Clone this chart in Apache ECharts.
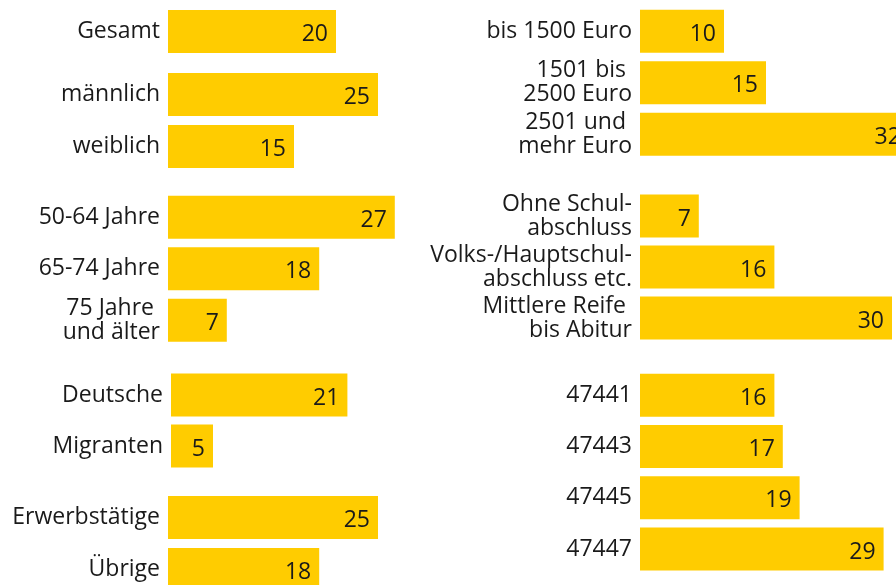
<!DOCTYPE html>
<html>
<head>
<meta charset="utf-8">
<script src="https://cdn.jsdelivr.net/npm/echarts@6/dist/echarts.min.js"></script>
<style>
    html, body { margin: 0; padding: 0; background: #fff; }
    #chart { width: 896px; height: 585px; }
</style>
</head>
<body>
<div id="chart"></div>
<script>
// Linke Spalte
var leftLabels = ['Gesamt', 'männlich', 'weiblich', '50-64 Jahre', '65-74 Jahre', '75 Jahre \nund älter',
                  'Deutsche', 'Migranten', 'Erwerbstätige', 'Übrige'];
var leftValues = [20, 25, 15, 27, 18, 7, 21, 5, 25, 18];
var leftGroups = [1, 2, 3, 2, 2];

// Rechte Spalte
var rightLabels = ['bis 1500 Euro', '1501 bis \n2500 Euro', '2501 und \nmehr Euro',
                   'Ohne Schul-\nabschluss', 'Volks-/Hauptschul-\nabschluss etc.', 'Mittlere Reife \nbis Abitur',
                   '47441', '47443', '47445', '47447'];
var rightValues = [10, 15, 32, 7, 16, 30, 16, 17, 19, 29];
var rightGroups = [3, 3, 4];

var FONT = '"Open Sans", "Noto Sans", sans-serif';
var TEXT = '#1a1a1a';
var YELLOW = '#ffcc00';

// Platzierung der Gruppen (Layout, keine Daten)
var layout = [
    { labels: leftLabels, values: leftValues, groups: leftGroups,
      x: [168, 168, 168, 171, 168], top: [5.5, 68.5, 191.5, 369.5, 491.5], slot: [52, 52, 51.5, 51, 52] },
    { labels: rightLabels, values: rightValues, groups: rightGroups,
      x: [640, 640, 640], top: [5.5, 190.5, 369.5], slot: [51.5, 51, 51.3] }
];

var grids = [], xAxes = [], yAxes = [], series = [];

layout.forEach(function (col) {
    var start = 0;
    col.groups.forEach(function (n, g) {
        var idx = grids.length;
        grids.push({
            left: col.x[g], top: col.top[g], width: 336, height: n * col.slot[g],
            containLabel: false, outerBoundsMode: 'none'
        });
        xAxes.push({ gridIndex: idx, type: 'value', min: 0, max: 40, show: false });
        yAxes.push({
            gridIndex: idx, type: 'category', inverse: true,
            data: col.labels.slice(start, start + n),
            axisLine: { show: false }, axisTick: { show: false }, splitLine: { show: false },
            axisLabel: { interval: 0, margin: 8, fontSize: 23, lineHeight: 24, color: TEXT, fontFamily: FONT,
                         padding: [2, 0, 0, 0] }
        });
        series.push({
            type: 'bar', xAxisIndex: idx, yAxisIndex: idx, barWidth: 43,
            data: col.values.slice(start, start + n),
            itemStyle: { color: YELLOW },
            label: { show: true, position: 'insideRight', distance: 8, offset: [0, 3],
                     fontSize: 23, color: TEXT, fontFamily: FONT },
            silent: true, animation: false
        });
        start += n;
    });
});

var chart = echarts.init(document.getElementById('chart'));
chart.setOption({
    backgroundColor: '#fff',
    animation: false,
    grid: grids,
    xAxis: xAxes,
    yAxis: yAxes,
    series: series
});
</script>
</body>
</html>
